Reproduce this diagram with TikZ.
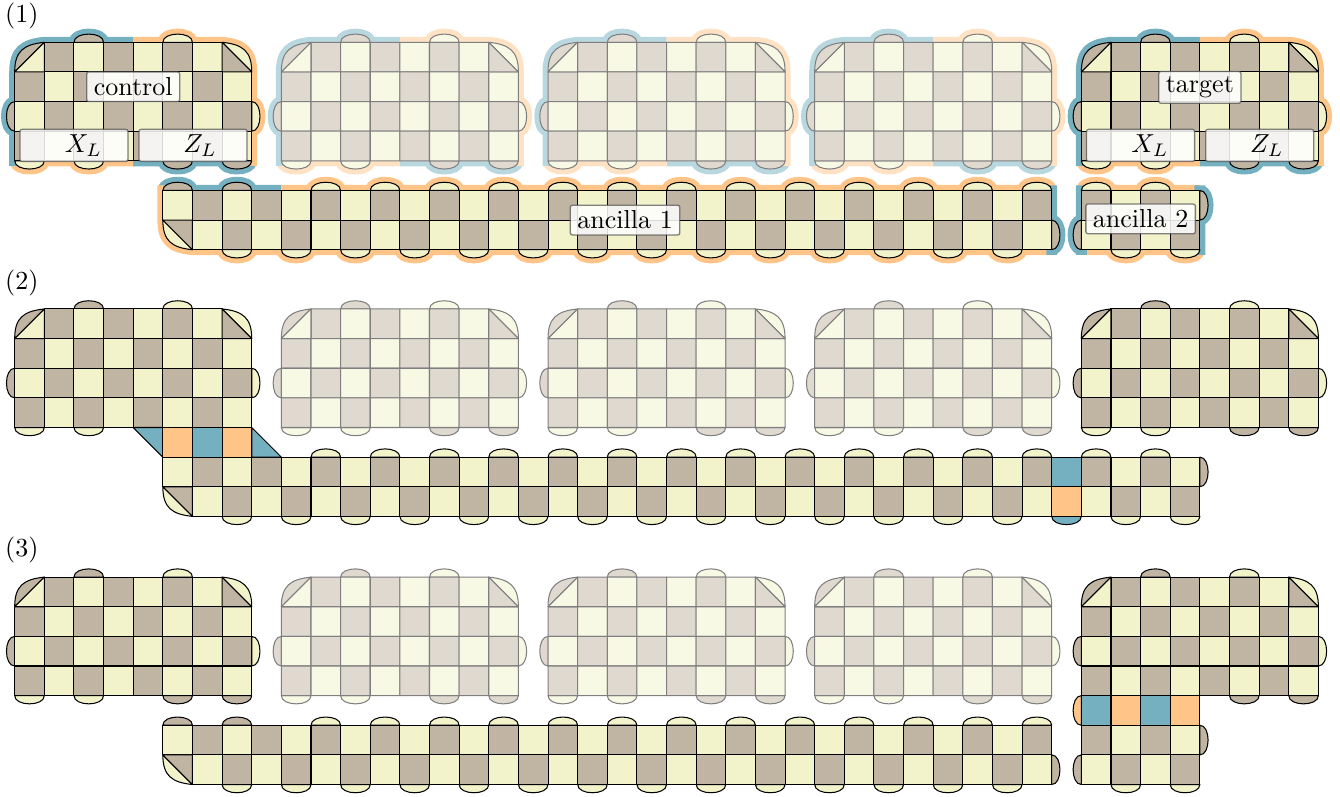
\documentclass[tikz,border=0pt]{standalone}
\usepackage{xcolor}
\definecolor{SurfDark}{HTML}{C0B4A2}
\definecolor{SurfPale}{HTML}{F2F3CB}
\definecolor{SurfTeal}{HTML}{74B0BF}
\definecolor{SurfAmber}{HTML}{FFC487}
\usepackage{tikz}
\tikzset{
  face/.style={draw=black,line width=.4pt,line join=round},
  rimline/.style={line width=4.2pt,line join=round},
  faded/.style={transparency group,opacity=.5},
  patchlabel/.style={draw=black!70,draw opacity=.7,fill=white,fill opacity=.85,text opacity=1,rounded corners=.8pt,line width=.5pt,inner xsep=2.7pt,inner ysep=2pt,minimum height=11.4pt},
  steplabel/.style={inner sep=0pt}
}
% path pieces, clockwise round a patch
\newcommand{\bumpN}[2]{-- (#1,#2) .. controls (#1,#2-.37) and (#1+1,#2-.37) .. (#1+1,#2)}
\newcommand{\bumpS}[2]{-- (#1+1,#2) .. controls (#1+1,#2+.37) and (#1,#2+.37) .. (#1,#2)}
\newcommand{\bumpE}[2]{-- (#1,#2) .. controls (#1+.37,#2) and (#1+.37,#2+1) .. (#1,#2+1)}
\newcommand{\bumpW}[2]{-- (#1,#2+1) .. controls (#1-.37,#2+1) and (#1-.37,#2) .. (#1,#2)}
\newcommand{\cornerNW}[2]{-- (#1,#2+1) .. controls (#1,#2+.3) and (#1+.3,#2+.07) .. (#1+1,#2)}
\newcommand{\cornerNE}[2]{-- (#1,#2) .. controls (#1+.7,#2+.07) and (#1+1,#2+.3) .. (#1+1,#2+1)}
\newcommand{\cornerSW}[2]{-- (#1+1,#2+1) .. controls (#1+.3,#2+.93) and (#1,#2+.7) .. (#1,#2)}
% filled boundary stabilisers: colour, x, y
\newcommand{\tabN}[3]{\filldraw[face,fill=#1] (#2,#3) \bumpN{#2}{#3} -- cycle;}
\newcommand{\tabS}[3]{\filldraw[face,fill=#1] (#2+1,#3) \bumpS{#2}{#3} -- cycle;}
\newcommand{\tabE}[3]{\filldraw[face,fill=#1] (#2,#3) \bumpE{#2}{#3} -- cycle;}
\newcommand{\tabW}[3]{\filldraw[face,fill=#1] (#2,#3+1) \bumpW{#2}{#3} -- cycle;}
% checkerboard: x, y, first col, last col, first row, last row
\newcommand{\checker}[6]{%
  \foreach \col in {#3,...,#4} \foreach \row in {#5,...,#6} {
    \pgfmathtruncatemacro{\facesum}{\col+\row}
    \ifodd\facesum
      \filldraw[face,fill=SurfDark] (#1+\col,#2+\row) rectangle +(1,1);
    \else
      \filldraw[face,fill=SurfPale] (#1+\col,#2+\row) rectangle +(1,1);
    \fi
  }
}
\newcommand{\patchbody}[2]{%
  \tabN{SurfDark}{#1+2}{#2}
  \tabN{SurfPale}{#1+5}{#2}
  \tabW{SurfDark}{#1}{#2+2}
  \tabE{SurfPale}{#1+8}{#2+2}
  \checker{#1}{#2}{1}{6}{0}{0}
  \checker{#1}{#2}{0}{7}{1}{3}
  \filldraw[face,fill=SurfDark] (#1,#2+1) \cornerNW{#1}{#2} -- cycle;
  \filldraw[face,fill=SurfPale] (#1,#2+1) -- (#1+1,#2) -- (#1+1,#2+1) -- cycle;
  \filldraw[face,fill=SurfPale] (#1+7,#2) \cornerNE{#1+7}{#2} -- cycle;
  \filldraw[face,fill=SurfDark] (#1+7,#2) -- (#1+8,#2+1) -- (#1+7,#2+1) -- cycle;
}
\newcommand{\southPale}[2]{\tabS{SurfPale}{#1}{#2+4} \tabS{SurfPale}{#1+2}{#2+4}}
\newcommand{\southDark}[2]{\tabS{SurfDark}{#1+5}{#2+4} \tabS{SurfDark}{#1+7}{#2+4}}
\newcommand{\patchfull}[2]{\southPale{#1}{#2} \southDark{#1}{#2} \patchbody{#1}{#2}}
\newcommand{\patchrim}[2]{%
  \draw[rimline,SurfTeal] (#1+8,#2+4) \bumpS{#1+7}{#2+4} \bumpS{#1+5}{#2+4} -- (#1+4,#2+4);
  \draw[rimline,SurfAmber] (#1+4,#2+4) \bumpS{#1+2}{#2+4} \bumpS{#1}{#2+4};
  \draw[rimline,SurfTeal] (#1,#2+4.17) \bumpW{#1}{#2+2} \cornerNW{#1}{#2} \bumpN{#1+2}{#2} -- (#1+4,#2);
  \draw[rimline,SurfAmber] (#1+4,#2) \bumpN{#1+5}{#2} \cornerNE{#1+7}{#2} \bumpE{#1+8}{#2+2} -- (#1+8,#2+4.17);
}
% long ancilla: shared tabs, cells and corner; y is the row above the patch row 0
\newcommand{\ancillatabs}[1]{%
  \foreach \col in {10,12,...,34} {\tabN{SurfPale}{\col}{#1+5}}
  \foreach \col in {7,9,...,33} {\tabS{SurfPale}{\col}{#1+7}}
  \checker{0}{#1}{5}{34}{5}{5}
  \checker{0}{#1}{6}{34}{6}{6}
  \filldraw[face,fill=SurfPale] (6,#1+7) \cornerSW{5}{#1+6} -- cycle;
  \filldraw[face,fill=SurfDark] (5,#1+6) -- (6,#1+6) -- (6,#1+7) -- cycle;
}
\begin{document}
\begin{tikzpicture}[x=.4cm,y=-.4cm]
  \useasboundingbox (-.496,-1.428) rectangle (44.73,25.44);

  % (1) separate patches
  \node[steplabel] (stepone) at (.24,-.9) {(1)};
  \patchrim{0}{0}
  \patchfull{0}{0}
  \foreach \px in {9,18,27} {
    \begin{scope}[faded]
      \patchrim{\px}{0}
      \patchfull{\px}{0}
    \end{scope}
  }
  \patchrim{36}{0}
  \patchfull{36}{0}

  \draw[rimline,SurfTeal] (5,5) \bumpN{5}{5} \bumpN{7}{5} -- (9,5);
  \draw[rimline,SurfAmber] (9,5) \foreach \col in {10,12,...,34} {\bumpN{\col}{5}} -- (35,5);
  \draw[rimline,SurfAmber] (35,7) \foreach \col in {33,31,...,7} {\bumpS{\col}{7}} \cornerSW{5}{6} -- (5,4.83);
  \draw[rimline,SurfTeal] (35,4.83) \bumpE{35}{6} -- (35,7.17);
  \draw[rimline,SurfAmber] (36,5) \bumpN{36}{5} \bumpN{38}{5} -- (40,5);
  \draw[rimline,SurfAmber] (40,7) \bumpS{39}{7} \bumpS{37}{7} -- (36,7);
  \draw[rimline,SurfTeal] (40,4.83) \bumpE{40}{5} -- (40,7.17);
  \draw[rimline,SurfTeal] (36,7.17) \bumpW{36}{6} -- (36,4.83);
  \tabN{SurfDark}{5}{5} \tabN{SurfDark}{7}{5}
  \tabE{SurfDark}{35}{6}
  \ancillatabs{0}
  \tabN{SurfPale}{36}{5} \tabN{SurfPale}{38}{5}
  \tabS{SurfPale}{37}{7} \tabS{SurfPale}{39}{7}
  \tabE{SurfDark}{40}{5} \tabW{SurfDark}{36}{6}
  \checker{0}{0}{36}{39}{5}{6}

  \node[patchlabel] (control) at (4,1.5) {control};
  \node[patchlabel,minimum width=41.5pt] (controlx) at (2,3.48) {\hspace{7.2pt}$X_L$};
  \node[patchlabel,minimum width=41.5pt] (controlz) at (6.02,3.48) {\hspace{5.4pt}$Z_L$};
  \node[patchlabel] (target) at (40,1.52) {target};
  \node[patchlabel,minimum width=41.5pt] (targetx) at (38,3.48) {\hspace{7.2pt}$X_L$};
  \node[patchlabel,minimum width=41.5pt] (targetz) at (42.02,3.48) {\hspace{5.4pt}$Z_L$};
  \node[patchlabel] (ancillaone) at (20.6,6) {ancilla 1};
  \node[patchlabel] (ancillatwo) at (38,5.96) {ancilla 2};

  % (2) merged over the gap
  \node[steplabel] (steptwo) at (.24,8.11) {(2)};
  \southPale{0}{9}
  \patchbody{0}{9}
  \foreach \px in {9,18,27} {
    \begin{scope}[faded]
      \patchfull{\px}{9}
    \end{scope}
  }
  \patchfull{36}{9}
  \ancillatabs{9}
  \tabN{SurfPale}{36}{14} \tabN{SurfPale}{38}{14}
  \tabS{SurfPale}{37}{16} \tabS{SurfPale}{39}{16}
  \tabE{SurfDark}{40}{14}
  \checker{0}{9}{36}{39}{5}{6}
  \filldraw[face,fill=SurfTeal] (4,13) -- (5,13) -- (5,14) -- cycle;
  \filldraw[face,fill=SurfAmber] (5,13) rectangle (6,14);
  \filldraw[face,fill=SurfTeal] (6,13) rectangle (7,14);
  \filldraw[face,fill=SurfAmber] (7,13) rectangle (8,14);
  \filldraw[face,fill=SurfTeal] (8,13) -- (9,14) -- (8,14) -- cycle;
  \tabS{SurfTeal}{35}{16}
  \filldraw[face,fill=SurfTeal] (35,14) rectangle (36,15);
  \filldraw[face,fill=SurfAmber] (35,15) rectangle (36,16);

  % (3) merged on the right
  \node[steplabel] (stepthree) at (.24,17.13) {(3)};
  \patchfull{0}{18.05}
  \foreach \px in {9,18,27} {
    \begin{scope}[faded]
      \patchfull{\px}{18.05}
    \end{scope}
  }
  \southDark{36}{18.05}
  \patchbody{36}{18.05}
  \tabN{SurfDark}{5}{23.05} \tabN{SurfDark}{7}{23.05}
  \tabE{SurfDark}{35}{24.05}
  \ancillatabs{18.05}
  \tabW{SurfAmber}{36}{22.05}
  \filldraw[face,fill=SurfTeal] (36,22.05) rectangle (37,23.05);
  \filldraw[face,fill=SurfAmber] (37,22.05) rectangle (38,23.05);
  \filldraw[face,fill=SurfTeal] (38,22.05) rectangle (39,23.05);
  \filldraw[face,fill=SurfAmber] (39,22.05) rectangle (40,23.05);
  \tabS{SurfPale}{37}{25.05} \tabS{SurfPale}{39}{25.05}
  \tabE{SurfDark}{40}{23.05} \tabW{SurfDark}{36}{24.05}
  \checker{0}{18.05}{36}{39}{5}{6}
\end{tikzpicture}
\end{document}
